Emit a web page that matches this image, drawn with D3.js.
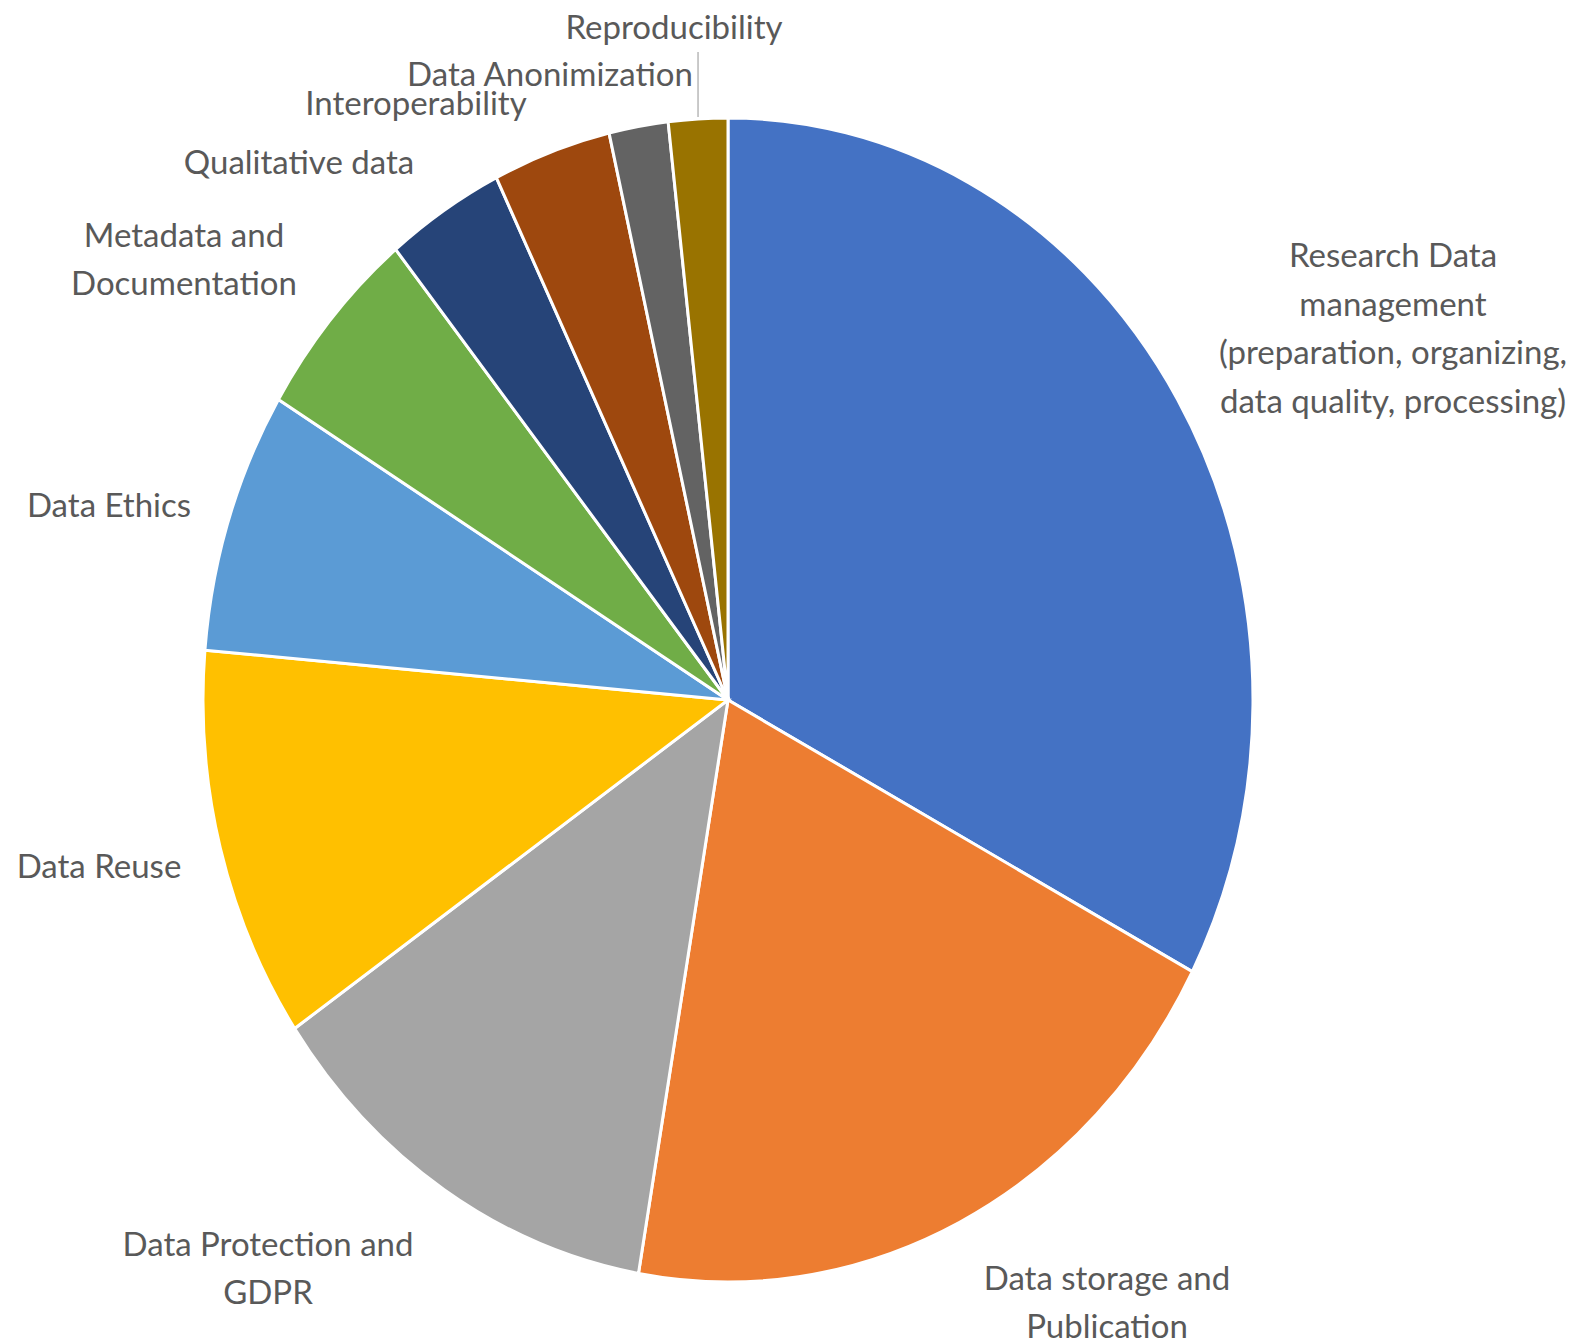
<!DOCTYPE html>
<html>
<head>
<meta charset="utf-8">
<script src="https://cdn.jsdelivr.net/npm/d3@7"></script>
<style>
  body { margin: 0; background: #fff; }
  svg { display: block; }
</style>
</head>
<body>
<svg></svg>
<script>
// categories, clockwise from 12 o'clock
const categories = [
  "Research Data management (preparation, organizing, data quality, processing)",
  "Data storage and Publication",
  "Data Protection and GDPR",
  "Data Reuse",
  "Data Ethics",
  "Metadata and Documentation",
  "Qualitative data",
  "Interoperability",
  "Data Anonimization",
  "Reproducibility"
];
const counts = [18, 11, 7, 6, 4, 3, 2, 2, 1, 1];
const colors = ["#4472C4", "#ED7D31", "#A5A5A5", "#FFC000", "#5B9BD5",
                "#70AD47", "#264478", "#9E480E", "#636363", "#997300"];

// label lines as wrapped in the picture
const labelLines = [
  ["Research Data", "management", "(preparation, organizing,", "data quality, processing)"],
  ["Data storage and", "Publication"],
  ["Data Protection and", "GDPR"],
  ["Data Reuse"],
  ["Data Ethics"],
  ["Metadata and", "Documentation"],
  ["Qualitative data"],
  ["Interoperability"],
  ["Data Anonimization"],
  ["Reproducibility"]
];
// where each label block is centred
const labelPos = [
  [1393, 327], [1107, 1301], [268, 1267], [99, 865], [109, 504],
  [184, 258], [299, 161], [416, 102], [550, 73], [674, 26]
];

const width = 1582, height = 1344;
const cx = 728, cy = 700;
const rx = 525, ry = 582;

const svg = d3.select("svg")
  .attr("width", width)
  .attr("height", height);

const pie = d3.pie().sort(null).value(d => d)(counts);

// draw a circle then stretch it vertically
const arc = d3.arc().innerRadius(0).outerRadius(rx);

const pieGroup = svg.append("g")
  .attr("transform", `translate(${cx},${cy}) scale(1, ${ry / rx})`);

pieGroup.selectAll("path")
  .data(pie)
  .enter()
  .append("path")
  .attr("d", arc)
  .attr("fill", (d, i) => colors[i])
  .attr("stroke", "#fff")
  .attr("stroke-width", 3)
  .attr("vector-effect", "non-scaling-stroke");

// leader line for the last tiny slice
const last = pie[pie.length - 1];
const midA = (last.startAngle + last.endAngle) / 2;
const edgeX = cx + Math.sin(midA) * rx;
const edgeY = cy - Math.cos(midA) * ry;
svg.append("line")
  .attr("x1", edgeX).attr("y1", edgeY - 2)
  .attr("x2", edgeX).attr("y2", 52)
  .attr("stroke", "#a6a6a6")
  .attr("stroke-width", 1.2);

// labels
const lineH = 48.5;
const labels = svg.append("g")
  .attr("font-family", "Lato, 'Open Sans', sans-serif")
  .attr("font-size", 33)
  .attr("fill", "#595959")
  .attr("text-anchor", "middle");

labelLines.forEach((lines, i) => {
  const [lx, ly] = labelPos[i];
  const t = labels.append("text")
    .attr("x", lx)
    .attr("y", ly - (lines.length - 1) * lineH / 2)
    .attr("dominant-baseline", "central");
  lines.forEach((ln, j) => {
    t.append("tspan")
      .attr("x", lx)
      .attr("dy", j === 0 ? 0 : lineH)
      .text(ln);
  });
});
</script>
</body>
</html>
